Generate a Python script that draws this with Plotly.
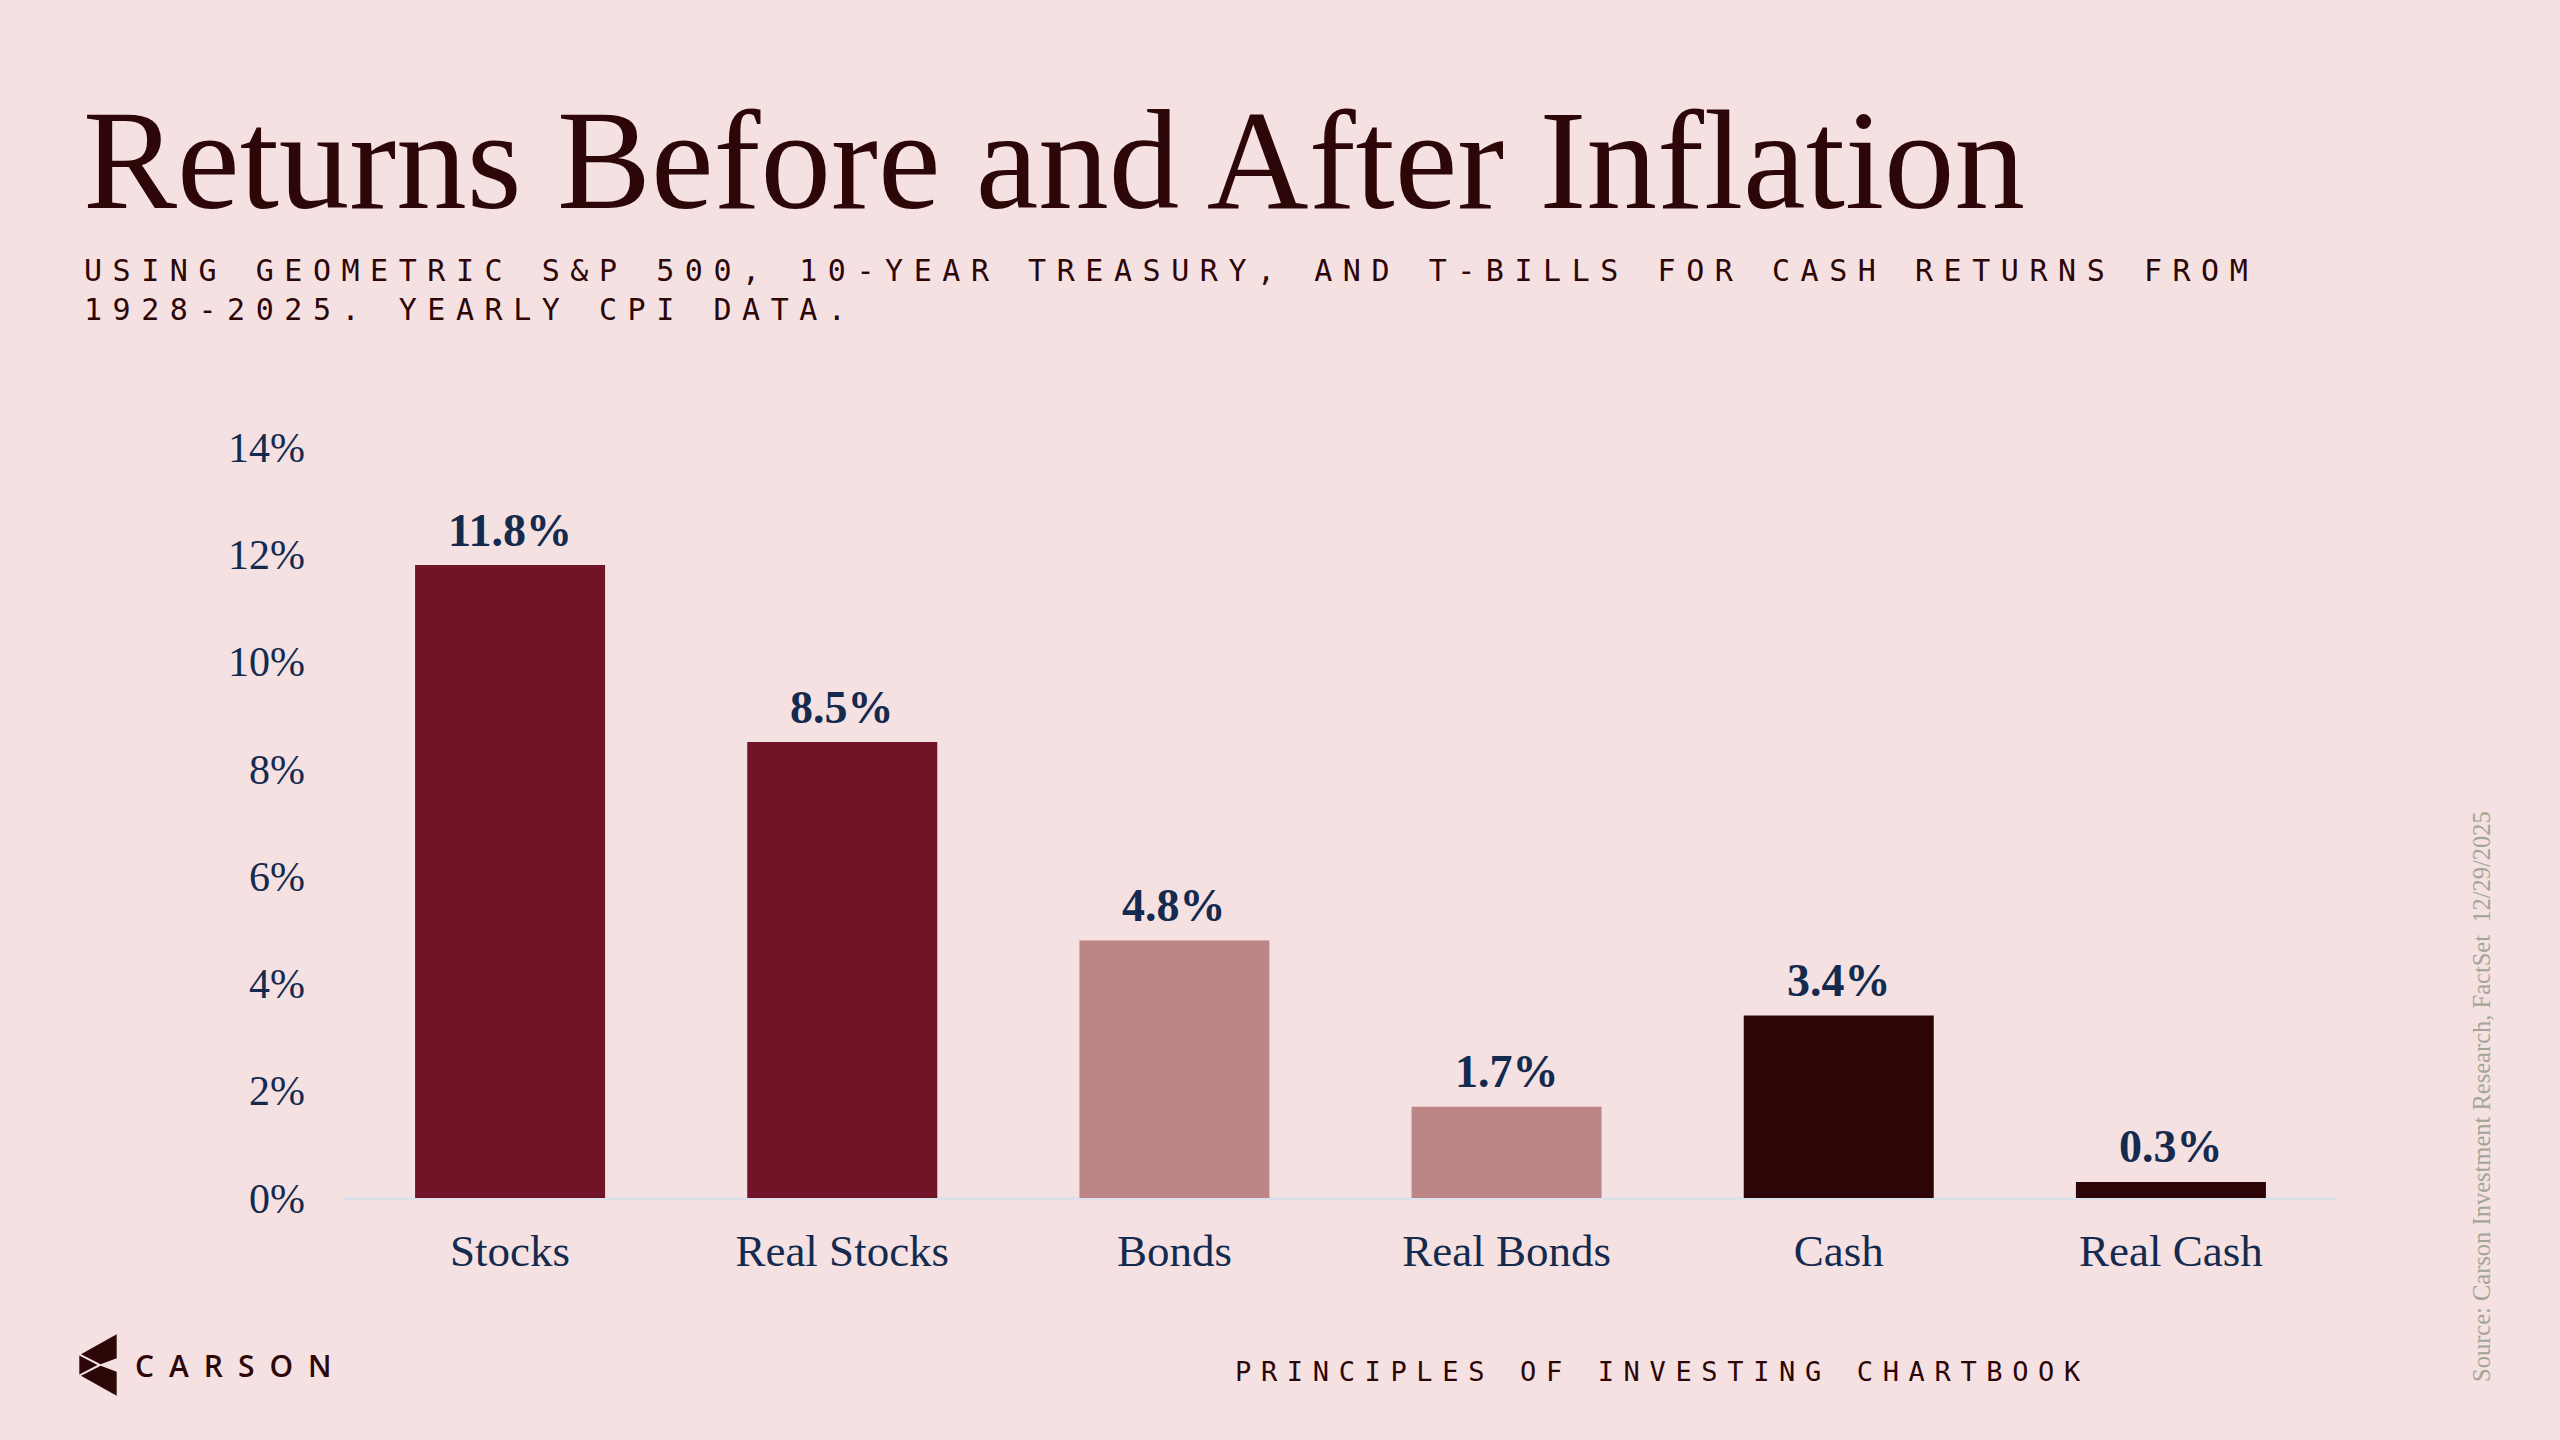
import plotly.graph_objects as go

# chart data
categories = ["Stocks", "Real Stocks", "Bonds", "Real Bonds", "Cash", "Real Cash"]
returns = [11.8, 8.5, 4.8, 1.7, 3.4, 0.3]
y_ticks = [0, 2, 4, 6, 8, 10, 12, 14]
y_tick_labels = [f"{v}%" for v in y_ticks]

title = "Returns Before and After Inflation"
subtitle_lines = [
    "USING GEOMETRIC S&P 500, 10-YEAR TREASURY, AND T-BILLS FOR CASH RETURNS FROM",
    "1928-2025. YEARLY CPI DATA.",
]
footer = "PRINCIPLES OF INVESTING CHARTBOOK"
source = "Source: Carson Investment Research, FactSet" + "\u00a0" * 2 + "12/29/2025"

BG = "#f5e1e2"
NAVY = "#142a4e"
DARK = "#2d0607"
bar_colors = ["#711427", "#711427", "#bd8585", "#bd8585", "#2d0506", "#2d0506"]

W, H = 2560, 1440
L, R, T, B = 344, 223, 447, 242
PW, PH = W - L - R, H - T - B


def px(x):
    return (x - L) / PW


def py(y):
    return (H - B - y) / PH


def spaced(text, gap_size):
    # fake letter spacing: a small non-breaking space between every glyph
    sep = f'<span style="font-size:{gap_size}px">\u00a0</span>'
    return sep.join("\u00a0" if c == " " else c for c in text)


fig = go.Figure(
    go.Bar(
        x=categories,
        y=returns,
        marker=dict(color=bar_colors, line=dict(width=0)),
        hoverinfo="x+y",
    )
)

fig.update_xaxes(
    range=[-0.5, 5.5],
    showgrid=False,
    showline=False,
    ticks="",
    tickfont=dict(family="Liberation Serif", size=45, color=NAVY),
    ticklabelstandoff=22,
)
fig.update_yaxes(
    range=[0, 14],
    tickvals=y_ticks,
    ticktext=y_tick_labels,
    showgrid=False,
    zeroline=True,
    zerolinecolor="#dfe1ea",
    zerolinewidth=3,
    ticks="",
    tickfont=dict(family="Liberation Serif", size=42, color=NAVY),
    ticklabelstandoff=38,
)

annotations = []
# value labels above the bars
for cat, val in zip(categories, returns):
    annotations.append(dict(
        text=f"{val:.1f}%", x=cat, y=val, xref="x", yref="y",
        xanchor="center", yanchor="middle", yshift=35, showarrow=False,
        font=dict(family="Liberation Serif", size=46, color=NAVY, weight="bold"),
    ))

page_texts = [
    dict(
        text=title, x=px(81), y=py(160), xanchor="left", yanchor="middle",
        font=dict(family="Liberation Serif", size=141, color=DARK),
    ),
    dict(
        text="<br>".join(spaced(s, 17.5) for s in subtitle_lines), x=px(82), y=py(290),
        xanchor="left", yanchor="middle", align="left",
        font=dict(family="DejaVu Sans Mono", size=30, color=DARK),
    ),
    dict(
        text=spaced(footer, 16), x=px(1658), y=py(1371), xanchor="center", yanchor="middle",
        font=dict(family="DejaVu Sans Mono", size=27, color=DARK),
    ),
    dict(
        text="\u2002".join("CARSON"), x=px(133), y=py(1365), xanchor="left", yanchor="middle",
        font=dict(family="Open Sans", size=30, color=DARK, weight=600),
    ),
    dict(
        text=source, x=px(2481), y=py(1097), xanchor="center", yanchor="middle", textangle=-90,
        font=dict(family="Liberation Serif", size=24.5, color="#a2a594"),
    ),
]
for a in page_texts:
    a.update(xref="paper", yref="paper", showarrow=False)
annotations += page_texts

# Carson logo
logo_parts = [
    [(116.7, 1334.3), (81, 1354.3), (100.7, 1364.3), (116.7, 1358.3)],
    [(116.7, 1395.7), (81, 1375.7), (100.7, 1365.7), (116.7, 1371.7)],
    [(79.3, 1355.5), (97.5, 1365), (79.3, 1374.5)],
]
shapes = []
for part in logo_parts:
    path = "M " + " L ".join(f"{px(x):.5f},{py(y):.5f}" for x, y in part) + " Z"
    shapes.append(dict(type="path", path=path, xref="paper", yref="paper",
                       fillcolor=DARK, line=dict(width=0)))

fig.update_layout(
    width=W,
    height=H,
    margin=dict(l=L, r=R, t=T, b=B),
    paper_bgcolor=BG,
    plot_bgcolor=BG,
    bargap=0.428,
    showlegend=False,
    annotations=annotations,
    shapes=shapes,
)

fig.write_html(
    "out.html",
    config={"displayModeBar": False},
    post_script="document.body.style.margin = '0px';",
)
